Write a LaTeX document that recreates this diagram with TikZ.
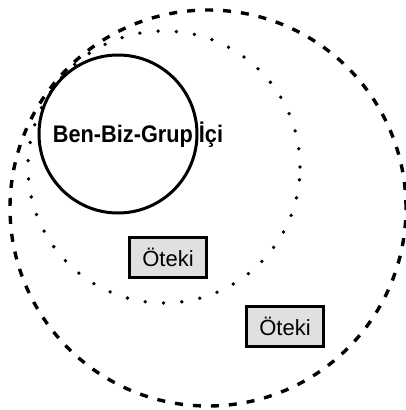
\documentclass[tikz,border=0pt]{standalone}
\usepackage{graphicx}
\usepackage{fontspec}
\setmainfont{Liberation Sans}
\usetikzlibrary{calc}

\tikzset{
  outerring/.style = {line width = 3.4pt, dash pattern = on 8pt off 10pt},
  innerring/.style = {line width = 3.8pt, line cap = round, dash pattern = on 0pt off 18.3pt},
  selfring/.style = {line width = 3pt},
  otherbox/.style = {draw, line width = 3pt, fill = black!12, minimum width = 77pt,
    minimum height = 40pt, inner sep = 0pt, font = \fontsize{22}{25}\selectfont}
}

\begin{document}
\begin{tikzpicture}[x = 1pt, y = -1pt]
  \useasboundingbox (0, 0) rectangle (406, 410);

  \draw[outerring] (208, 208) coordinate (C1) circle[radius = 198pt];
  \draw[innerring] (164, 167) coordinate (C2) circle[radius = 136pt];
  \draw[selfring] (118, 134) coordinate (C3) circle[radius = 79pt];

  \node[font = \bfseries\fontsize{24}{26}\selectfont, inner sep = 0pt, anchor = base]
  (ingroup) at (138, 142) {\scalebox{0.905}[1]{Ben-Biz-Grup İçi}};

  \node[otherbox] (other1) at (168, 257) {Öteki};
  \node[otherbox] (other2) at (285, 326) {Öteki};
\end{tikzpicture}
\end{document}
